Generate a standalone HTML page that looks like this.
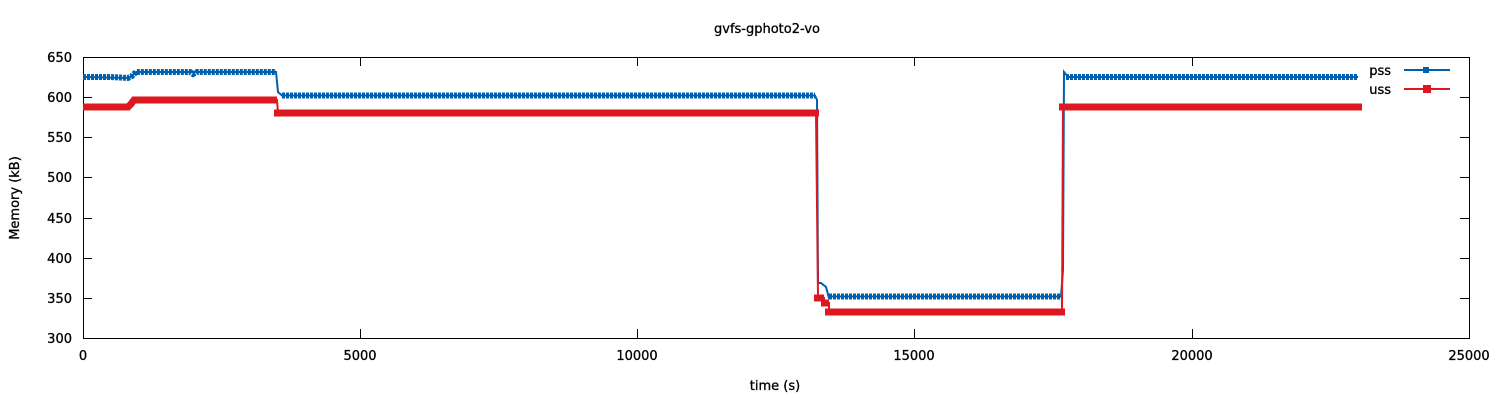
<!DOCTYPE html>
<html><head><style>body{margin:0;background:#fff}svg{display:block}text{font-family:"DejaVu Sans","Liberation Sans",sans-serif;font-size:13px;fill:#000;stroke:#000;stroke-width:0.3}</style></head>
<body>
<svg width="1500" height="400" xmlns="http://www.w3.org/2000/svg">
<text x="767" y="33" text-anchor="middle">gvfs-gphoto2-vo</text>
<g stroke="#000" stroke-width="1" fill="none">
<rect x="83.5" y="57.5" width="1386" height="281"/>
<path d="M83 298.5h9M1469 298.5h-9M83 258.5h9M1469 258.5h-9M83 218.5h9M1469 218.5h-9M83 177.5h9M1469 177.5h-9M83 137.5h9M1469 137.5h-9M83 97.5h9M1469 97.5h-9M360.5 338v-9M360.5 57v9M637.5 338v-9M637.5 57v9M914.5 338v-9M914.5 57v9M1192.5 338v-9M1192.5 57v9"/>
</g>
<g text-anchor="end">
<text x="72" y="343">300</text><text x="72" y="303">350</text><text x="72" y="263">400</text><text x="72" y="223">450</text><text x="72" y="182">500</text><text x="72" y="142">550</text><text x="72" y="102">600</text><text x="72" y="62">650</text>
</g>
<g text-anchor="middle">
<text x="83" y="360">0</text><text x="360" y="360">5000</text><text x="637" y="360">10000</text><text x="914" y="360">15000</text><text x="1192" y="360">20000</text><text x="1469" y="360">25000</text>
<text x="775" y="390">time (s)</text>
</g>
<text transform="translate(19,198) rotate(-90)" text-anchor="middle">Memory (kB)</text>
<polyline fill="none" stroke="#0060ad" stroke-width="2" points="83,77 128,78 132,76 136,72 276,72 278,92 282,95.5 815,95.5 817,100 818,283 821,283 826,287 829,298 832,296.5 1061,296.5 1063,270 1064,72 1068,77 1358,77"/>
<g fill="none" stroke="#0060ad" stroke-width="6" stroke-dasharray="3 1">
<polyline points="83,77 110,77 120,77.5 128,78 132,76 136,72 190,72 193,74 197,72 276,72"/>
<polyline points="282,95.5 815,95.5"/>
<polyline points="829,296.5 1061,296.5"/>
<polyline points="1066,77 1358,77"/>
</g>
<polyline fill="none" stroke="#dd181f" stroke-width="2" points="83,107 128,107 131,104 134,100 277,100 278,113 816,113 818,298 824,298 824,303 829,303 829,312 1062,312 1063,107 1358,107"/>
<g fill="none" stroke="#dd181f" stroke-width="7">
<polyline points="83,107 128,107 131,104 134,100 277,100"/>
<polyline points="274,113 819,113"/>
<polyline points="814,298 824,298"/>
<polyline points="821,303 829,303"/>
<polyline points="825,312 1065,312"/>
<polyline points="1059,107 1362,107"/>
</g>
<text x="1391" y="75" text-anchor="end">pss</text>
<text x="1391" y="94" text-anchor="end">uss</text>
<line x1="1404" y1="70" x2="1450" y2="70" stroke="#0060ad" stroke-width="2"/>
<rect x="1423" y="67" width="6" height="6" fill="#0060ad"/>
<line x1="1404" y1="89" x2="1450" y2="89" stroke="#dd181f" stroke-width="2"/>
<rect x="1423" y="85" width="8" height="8" fill="#dd181f"/>
</svg>
</body></html>
